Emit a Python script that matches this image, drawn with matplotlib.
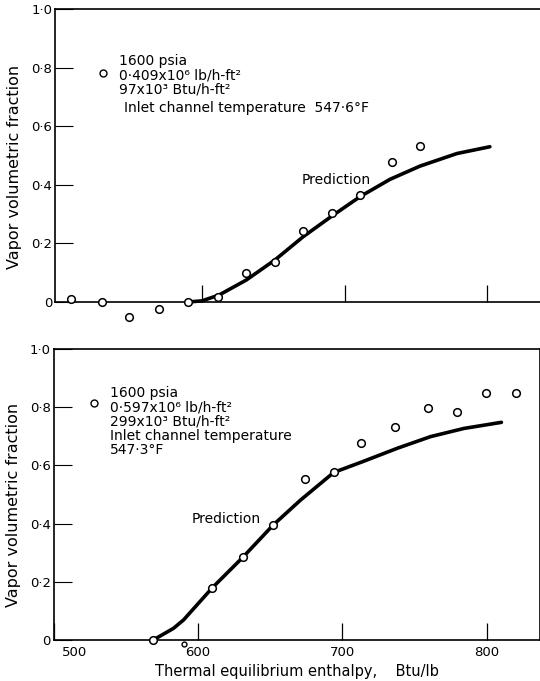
import matplotlib
matplotlib.use("Agg")
import matplotlib.pyplot as plt
import matplotlib.transforms as mtransforms

# upper chart: 0.409x10^6 lb/h-ft2, 97x10^3 Btu/h-ft2
top_enthalpy = [508, 530, 549, 570, 590, 611, 631, 651, 671, 691, 711, 733, 753]
top_fraction = [0.01, 0.0, -0.05, -0.025, 0.0, 0.018, 0.10, 0.138, 0.242, 0.305, 0.364, 0.477, 0.533]
top_pred_enthalpy = [590, 600, 612, 631, 651, 671, 691, 711, 732, 753, 779, 802]
top_pred_fraction = [0.0, 0.004, 0.024, 0.075, 0.143, 0.223, 0.293, 0.36, 0.419, 0.464, 0.507, 0.53]

# lower chart: 0.597x10^6 lb/h-ft2, 299x10^3 Btu/h-ft2
bot_enthalpy = [569, 610, 631, 652, 674, 694, 713, 736, 759, 779, 799, 820]
bot_fraction = [0.0, 0.18, 0.284, 0.395, 0.552, 0.576, 0.678, 0.733, 0.798, 0.782, 0.848, 0.85]
bot_stray_enthalpy = [590]
bot_stray_fraction = [-0.014]
bot_pred_enthalpy = [569, 583, 590, 610, 631, 652, 671, 694, 714, 738, 761, 784, 810]
bot_pred_fraction = [0.0, 0.04, 0.069, 0.18, 0.284, 0.395, 0.481, 0.576, 0.613, 0.659, 0.699, 0.727, 0.748]

y_ticks = [0, 0.2, 0.4, 0.6, 0.8, 1.0]
y_ticklabels = ["0", "0·2", "0·4", "0·6", "0·8", "1·0"]
x_ticks = [500, 600, 700, 800]
x_ticklabels = ["500", "600", "700", "800"]

top_notes = ["1600 psia", "0·409x10⁶ lb/h-ft²", "97x10³ Btu/h-ft²"]
top_notes_last = "Inlet channel temperature  547·6°F"
bot_notes = ["1600 psia", "0·597x10⁶ lb/h-ft²", "299x10³ Btu/h-ft²",
             "Inlet channel temperature", "547·3°F"]

FS = 10
fig = plt.figure(figsize=(5.4, 6.81), dpi=100)
ax1 = fig.add_axes([0.1019, 0.5565, 0.8981, 0.4302])
ax2 = fig.add_axes([0.0991, 0.0602, 0.9009, 0.4273])


def style_axes(ax, xlim):
    ax.set_xlim(*xlim)
    ax.set_ylim(0, 1.0)
    ax.set_yticks(y_ticks)
    ax.set_yticklabels(y_ticklabels)
    for s in ax.spines.values():
        s.set_linewidth(1.2)
    ax.tick_params(axis="y", direction="in", length=13, width=0.8, pad=2, labelsize=9.5)
    ax.tick_params(axis="x", direction="in", length=12, width=0.9, pad=4, labelsize=9.5)
    ax.set_ylabel("Vapor volumetric fraction", fontsize=11.5)


def draw_notes(ax, lines, x, v_top, v_key, spacing):
    ax.text(x, v_top, "\n".join(lines), fontsize=FS, ha="left", va="top",
            linespacing=spacing)
    # key symbol in front of the mass flux line
    off = mtransforms.ScaledTranslation(-16 / 100, 0, fig.dpi_scale_trans)
    ax.plot([x], [v_key], "o", mfc="white", mec="black", ms=5, mew=1.0,
            transform=ax.transData + off, clip_on=False)


# upper panel
style_axes(ax1, (496.8, 837.2))
ax1.set_xticks(x_ticks[1:])
ax1.spines["right"].set_visible(False)
ax1.tick_params(axis="x", labelbottom=False)
ax1.plot(top_pred_enthalpy, top_pred_fraction, "-", color="black", lw=2.6,
         solid_capstyle="round", clip_on=False)
ax1.plot(top_enthalpy, top_fraction, "o", mfc="white", mec="black", ms=5.5, mew=1.1,
         clip_on=False, zorder=3)
ax1.text(670, 0.416, "Prediction", fontsize=FS, ha="left", va="center")
draw_notes(ax1, top_notes, 541.8, 0.845, 0.782, 1.0)
ax1.text(545.3, 0.662, top_notes_last, fontsize=FS, ha="left", va="center")
ax1.yaxis.set_label_coords(-0.068, 0.46)

# lower panel
style_axes(ax2, (500, 836.7))
ax2.set_xticks(x_ticks)
ax2.set_xticklabels(x_ticklabels)
ax2.plot(bot_pred_enthalpy, bot_pred_fraction, "-", color="black", lw=2.6,
         solid_capstyle="round", clip_on=False)
ax2.plot(bot_enthalpy, bot_fraction, "o", mfc="white", mec="black", ms=5.5, mew=1.1,
         clip_on=False, zorder=3)
ax2.plot(bot_stray_enthalpy, bot_stray_fraction, "o", mfc="white", mec="black", ms=3.5,
         mew=1.0, clip_on=False, zorder=3)
ax2.text(595.6, 0.416, "Prediction", fontsize=FS, ha="left", va="center")
draw_notes(ax2, bot_notes, 539.1, 0.8725, 0.813, 1.02)
ax2.yaxis.set_label_coords(-0.067, 0.464)
ax2.set_xlabel("Thermal equilibrium enthalpy,    Btu/lb", fontsize=10.5, labelpad=4)

# first x label sits right of the axis corner
lbl = ax2.get_xticklabels()[0]
lbl.set_transform(lbl.get_transform() + mtransforms.ScaledTranslation(21 / 100, 0, fig.dpi_scale_trans))

fig.savefig("out.png", dpi=100)
